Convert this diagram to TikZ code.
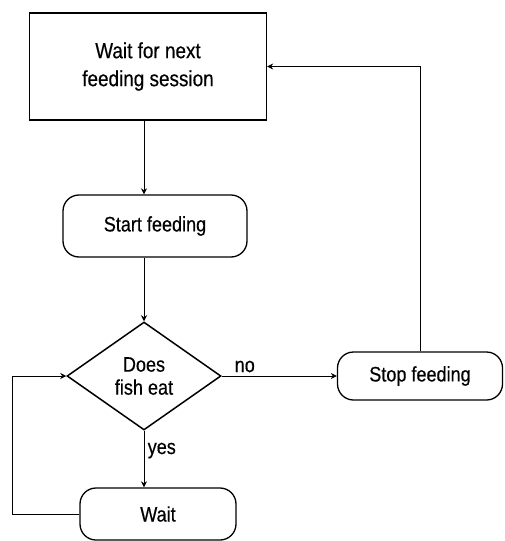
\documentclass[tikz,border=0pt]{standalone}
\usepackage{fontspec}
\setmainfont{Liberation Sans}[FakeStretch=0.86,FakeBold=0.4]
\usetikzlibrary{shapes.geometric,arrows.meta,positioning}

\tikzset{
  box/.style={draw, line width=1.3pt, minimum width=237pt, minimum height=107pt,
    align=center, font=\fontsize{22}{28}\selectfont},
  pill/.style={draw, line width=1.3pt, rounded corners=16pt, align=center,
    font=\fontsize{21}{26}\selectfont},
  decision/.style={draw, diamond, line width=1.5pt, inner sep=0pt,
    minimum width=154pt, minimum height=108pt, align=center,
    font=\fontsize{21}{23}\selectfont},
  flow/.style={-{Stealth[length=6pt,width=6pt]}, line width=0.8pt},
  lbl/.style={font=\fontsize{21}{23}\selectfont}
}

\begin{document}
\begin{tikzpicture}[x=1pt,y=-1pt]
  \useasboundingbox (0,0) rectangle (504,541);
  \node (session) [box] at (148,66.5) {Wait for next\\feeding session};
  \node (start) [pill, minimum width=184pt, minimum height=62pt] at (155,226) {Start feeding};
  \node (fisheat) [decision] at (144,376) {Does\\fish eat};
  \node (stop) [pill, minimum width=165pt, minimum height=48pt] at (420,376) {Stop feeding};
  \node (pause) [pill, minimum width=156pt, minimum height=52pt] at (158,514) {Wait};

  \draw[flow] (session.south -| fisheat) -- (start.north -| fisheat);
  \draw[flow] (start.south -| fisheat) -- (fisheat.north);
  \draw[flow] (fisheat.east) -- node[lbl, above, pos=0.2] {no} (stop.west);
  \draw[flow] (stop.north) |- (session.east);
  \draw[flow] (fisheat.south) -- node[lbl, right, pos=0.35] {yes} (pause.north -| fisheat);
  \draw[flow] (pause.west) -- ++(-67,0) |- (fisheat.west);
\end{tikzpicture}
\end{document}
